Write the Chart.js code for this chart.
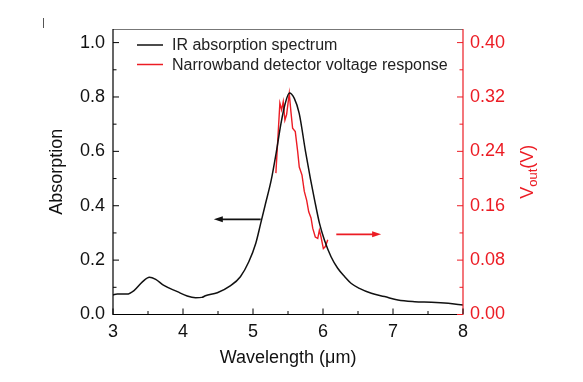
<!DOCTYPE html>
<html>
<head>
<meta charset="utf-8">
<script src="https://cdn.jsdelivr.net/npm/chart.js@4.4.1/dist/chart.umd.min.js"></script>
<style>
  html, body { margin: 0; padding: 0; background: #fff; }
</style>
</head>
<body>
<canvas id="myChart" width="583" height="382"></canvas>
<script>
// IR absorption spectrum (left axis)
var absWavelength = [3.0, 3.06, 3.2, 3.3, 3.42, 3.52, 3.61, 3.72, 3.92, 4.06, 4.18, 4.27, 4.32, 4.49, 4.68, 4.82,
  4.94, 5.04, 5.11, 5.18, 5.26, 5.33, 5.40, 5.46, 5.52, 5.59, 5.66, 5.75, 5.82, 5.88, 5.95, 6.02, 6.115,
  6.21, 6.31, 6.40, 6.52, 6.69, 6.88, 7.07, 7.31, 7.55, 7.79, 8.0];
var absorption = [0.072, 0.075, 0.075, 0.088, 0.12, 0.137, 0.129, 0.108, 0.084, 0.068, 0.062, 0.063, 0.069, 0.08, 0.106, 0.139,
  0.194, 0.262, 0.335, 0.409, 0.494, 0.593, 0.703, 0.776, 0.815, 0.795, 0.74, 0.60, 0.50, 0.421, 0.335, 0.274, 0.2125,
  0.17, 0.139, 0.115, 0.096, 0.078, 0.066, 0.053, 0.047, 0.045, 0.041, 0.035];

// narrowband detector response (right axis, volts)
var voltWavelength = [5.327, 5.384, 5.409, 5.432, 5.456, 5.480, 5.518, 5.542, 5.566, 5.604, 5.638, 5.661, 5.700,
  5.733, 5.767, 5.796, 5.829, 5.853, 5.890, 5.925, 5.948, 5.972, 6.005, 6.034, 6.068];
var voltage = [0.208, 0.311, 0.301, 0.313, 0.286, 0.294, 0.325, 0.298, 0.274, 0.269, 0.240, 0.217, 0.205,
  0.181, 0.168, 0.151, 0.142, 0.127, 0.114, 0.112, 0.124, 0.114, 0.097, 0.100, 0.110];

var xTicks = [3, 4, 5, 6, 7, 8];
var xMinor = [3.5, 4.5, 5.5, 6.5, 7.5];
var absTicks = [0, 0.2, 0.4, 0.6, 0.8, 1.0];
var absMinor = [0.1, 0.3, 0.5, 0.7, 0.9];
var voltTicks = [0, 0.08, 0.16, 0.24, 0.32, 0.40];
var voltMinor = [0.04, 0.12, 0.20, 0.28, 0.36];

// arrows: [x from, x to, absorption level]
var blackArrow = [5.11, 4.44, 0.35];
var redArrow = [6.19, 6.83, 0.295];

var RED = 'rgb(236, 28, 36)';
var FONT = '"Liberation Sans", Arial, sans-serif';

function pts(xs, ys) {
  return xs.map(function (x, i) { return { x: x, y: ys[i] }; });
}

var extras = {
  id: 'extras',
  afterDraw: function (chart) {
    var ctx = chart.ctx;
    var a = chart.chartArea;
    var sx = chart.scales.x, sy = chart.scales.y, sv = chart.scales.y1;
    ctx.save();

    // frame
    ctx.lineWidth = 1;
    ctx.strokeStyle = '#777';
    ctx.beginPath(); ctx.moveTo(a.left, a.top + 0.5); ctx.lineTo(a.right, a.top + 0.5); ctx.stroke();
    ctx.strokeStyle = '#000';
    ctx.lineWidth = 1.2;
    ctx.beginPath();
    ctx.moveTo(a.left, a.top); ctx.lineTo(a.left, a.bottom); ctx.lineTo(a.right, a.bottom);
    ctx.stroke();
    ctx.strokeStyle = RED;
    ctx.beginPath(); ctx.moveTo(a.right, a.top); ctx.lineTo(a.right, a.bottom); ctx.stroke();

    // inward ticks
    ctx.lineWidth = 1;
    ctx.strokeStyle = '#000';
    xTicks.concat(xMinor).forEach(function (v, i) {
      var p = sx.getPixelForValue(v), len = i < xTicks.length ? 6 : 3.5;
      ctx.beginPath(); ctx.moveTo(p, a.bottom); ctx.lineTo(p, a.bottom - len); ctx.stroke();
    });
    absTicks.concat(absMinor).forEach(function (v, i) {
      var p = sy.getPixelForValue(v), len = i < absTicks.length ? 6 : 3.5;
      ctx.beginPath(); ctx.moveTo(a.left, p); ctx.lineTo(a.left + len, p); ctx.stroke();
    });
    ctx.strokeStyle = RED;
    voltTicks.concat(voltMinor).forEach(function (v, i) {
      var p = sv.getPixelForValue(v), len = i < voltTicks.length ? 6 : 3.5;
      ctx.beginPath(); ctx.moveTo(a.right, p); ctx.lineTo(a.right - len, p); ctx.stroke();
    });

    // arrows
    function arrow(d, color) {
      var x0 = sx.getPixelForValue(d[0]), x1 = sx.getPixelForValue(d[1]), y = sy.getPixelForValue(d[2]);
      var dir = x1 > x0 ? 1 : -1;
      ctx.strokeStyle = color; ctx.fillStyle = color; ctx.lineWidth = 1.8;
      ctx.beginPath(); ctx.moveTo(x0, y); ctx.lineTo(x1 - dir * 6, y); ctx.stroke();
      ctx.beginPath(); ctx.moveTo(x1, y); ctx.lineTo(x1 - dir * 9, y - 3); ctx.lineTo(x1 - dir * 9, y + 3); ctx.closePath(); ctx.fill();
    }
    arrow(blackArrow, '#111');
    arrow(redArrow, RED);

    // legend
    ctx.font = '16px ' + FONT;
    ctx.textBaseline = 'middle';
    ctx.textAlign = 'left';
    chart.data.datasets.forEach(function (ds, i) {
      var y = 45 + i * 19.5;
      ctx.strokeStyle = ds.borderColor; ctx.lineWidth = 1.5;
      ctx.beginPath(); ctx.moveTo(137, y); ctx.lineTo(163, y); ctx.stroke();
      ctx.fillStyle = '#222';
      ctx.fillText(ds.label, 172, y + 1);
    });

    // axis titles
    ctx.fillStyle = '#111';
    ctx.font = '18px ' + FONT;
    ctx.textAlign = 'center';
    ctx.fillText('Wavelength (\u03bcm)', (a.left + a.right) / 2, 358);
    ctx.save();
    ctx.translate(57, (a.top + a.bottom) / 2);
    ctx.rotate(-Math.PI / 2);
    ctx.fillText('Absorption', 0, 0);
    ctx.restore();

    // V_out(V) with subscript
    ctx.save();
    ctx.translate(528, (a.top + a.bottom) / 2);
    ctx.rotate(-Math.PI / 2);
    ctx.fillStyle = RED;
    ctx.textAlign = 'left';
    var big = '18px ' + FONT, small = '13px ' + FONT;
    ctx.font = big; var w1 = ctx.measureText('V').width;
    ctx.font = small; var w2 = ctx.measureText('out').width;
    ctx.font = big; var w3 = ctx.measureText('(V)').width;
    var x = -(w1 + w2 + w3) / 2;
    ctx.font = big; ctx.fillText('V', x, 0);
    ctx.font = small; ctx.fillText('out', x + w1, 5);
    ctx.font = big; ctx.fillText('(V)', x + w1 + w2, 0);
    ctx.restore();

    // small mark at the top left corner
    ctx.strokeStyle = '#555'; ctx.lineWidth = 1;
    ctx.beginPath(); ctx.moveTo(43.5, 18); ctx.lineTo(43.5, 28); ctx.stroke();

    ctx.restore();
  }
};

var chart = new Chart(document.getElementById('myChart'), {
  type: 'line',
  data: {
    datasets: [
      {
        label: 'IR absorption spectrum',
        data: pts(absWavelength, absorption),
        yAxisID: 'y',
        borderColor: '#111',
        borderWidth: 1.5,
        pointRadius: 0,
        cubicInterpolationMode: 'monotone',
        fill: false
      },
      {
        label: 'Narrowband detector voltage response',
        data: pts(voltWavelength, voltage),
        yAxisID: 'y1',
        borderColor: RED,
        borderWidth: 1.4,
        pointRadius: 0,
        tension: 0,
        fill: false
      }
    ]
  },
  options: {
    responsive: false,
    animation: false,
    layout: { padding: { top: 29, left: 0, right: 0, bottom: 0 } },
    plugins: { legend: { display: false }, tooltip: { enabled: false } },
    scales: {
      x: {
        type: 'linear',
        min: 3, max: 8,
        grid: { display: false, drawTicks: false },
        border: { display: false },
        afterBuildTicks: function (s) { s.ticks = xTicks.map(function (v) { return { value: v }; }); },
        afterFit: function (s) { s.height = 67.5; },
        ticks: { color: '#111', padding: 7, font: { family: FONT, size: 18 }, callback: function (v) { return v; } }
      },
      y: {
        position: 'left',
        min: 0, max: 1.05,
        grid: { display: false, drawTicks: false },
        border: { display: false },
        afterBuildTicks: function (s) { s.ticks = absTicks.map(function (v) { return { value: v }; }); },
        afterFit: function (s) { s.width = 113; },
        ticks: { color: '#111', padding: 8, font: { family: FONT, size: 18 }, callback: function (v) { return v.toFixed(1); } }
      },
      y1: {
        position: 'right',
        min: 0, max: 0.42,
        grid: { display: false, drawTicks: false },
        border: { display: false },
        afterBuildTicks: function (s) { s.ticks = voltTicks.map(function (v) { return { value: v }; }); },
        afterFit: function (s) { s.width = 120; },
        ticks: { color: RED, padding: 7, font: { family: FONT, size: 18 }, callback: function (v) { return v.toFixed(2); } }
      }
    }
  },
  plugins: [extras]
});
</script>
</body>
</html>
